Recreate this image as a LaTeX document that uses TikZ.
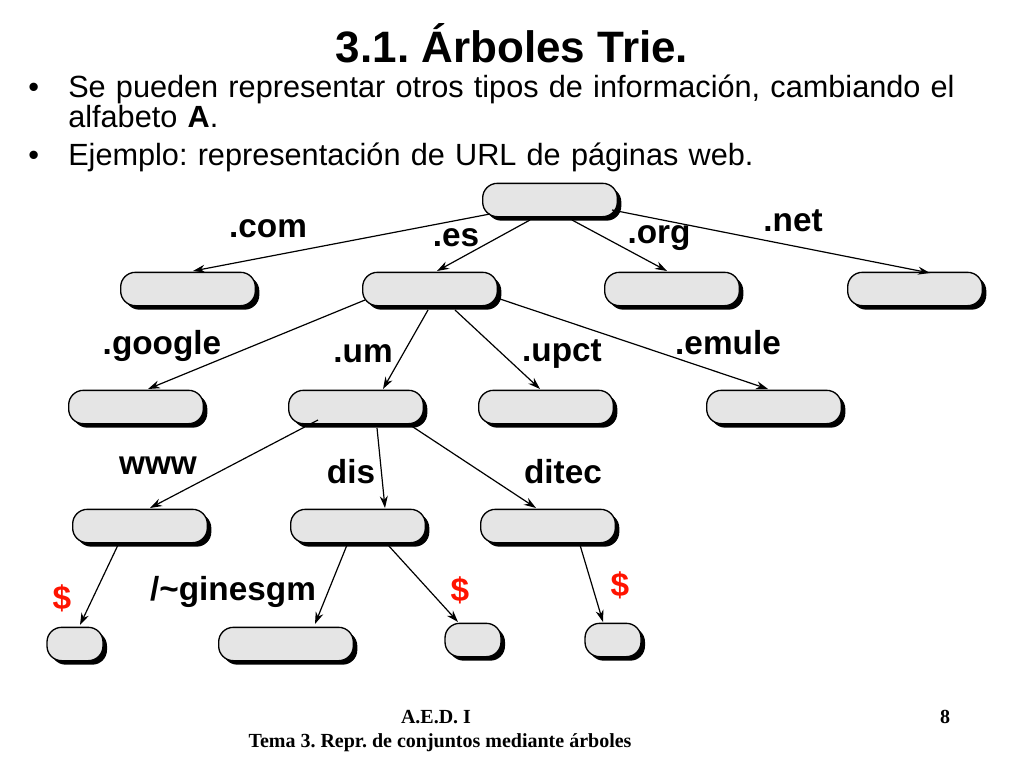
\documentclass[tikz,border=0pt]{standalone}
\usepackage{fontspec}
\setmainfont{Liberation Sans}
\newfontfamily\footfont{Liberation Serif}
\usetikzlibrary{shadows,arrows.meta}
\frenchspacing
\begin{document}
\begin{tikzpicture}[x=0.75pt,y=-0.75pt,
 box/.style={draw=black,line width=1pt,fill=gray!20,rounded corners=11pt,minimum height=25pt,minimum width=101pt,inner sep=0pt,
   drop shadow={shadow xshift=3pt,shadow yshift=-3pt,fill=black,opacity=1}},
 small/.style={box,minimum width=42pt},
 lab/.style={font=\bfseries\fontsize{25}{27}\selectfont,inner sep=0pt},
 dol/.style={lab,text=red!85!orange},
 arr/.style={-{Stealth[length=9pt,width=6pt]},line width=0.9pt},
 ft/.style={font=\footfont\bfseries\fontsize{15}{17}\selectfont}]
\useasboundingbox (0,0) rectangle (1024,768);
\node[font=\bfseries\fontsize{33}{36}\selectfont] (title) at (512,43) {3.1. Árboles Trie.};
\node[anchor=north west,font=\fontsize{23}{21}\selectfont,text width=740pt,align=left,inner sep=0pt] (txt) at (28,75)
 {\makebox[30pt][l]{•}Se pueden representar otros tipos de información, cambiando el\\
 \hspace*{30pt}alfabeto \textbf{A}.\\[7pt]
 \makebox[30pt][l]{•}Ejemplo: representación de URL de páginas web.};
\node[box] (r) at (550,200) {};
\node[box] (a) at (188,289) {};
\node[box] (b) at (430,289) {};
\node[box] (c) at (672,289) {};
\node[box] (d) at (915,289) {};
\node[box] (g) at (136,407) {};
\node[box] (um) at (356,407) {};
\node[box] (up) at (546,407) {};
\node[box] (em) at (774,407) {};
\node[box] (w) at (140,526) {};
\node[box] (di) at (358,526) {};
\node[box] (dt) at (548,526) {};
\node[small] (e1) at (75,644) {};
\node[box] (gi) at (286,644) {};
\node[small] (e2) at (473,640) {};
\node[small] (e3) at (613,640) {};
\draw[arr] ([shift={(-60,14)}]r.center) -- ([shift={(5,-18)}]a.center);
\draw[arr] ([shift={(-20,20)}]r.center) -- ([shift={(7,-18)}]b.center);
\draw[arr] ([shift={(22,20)}]r.center) -- ([shift={(-5,-18)}]c.center);
\draw[arr] ([shift={(62,10)}]r.center) -- ([shift={(15,-16)}]d.center);
\draw[arr] ([shift={(-65,11)}]b.center) -- ([shift={(12,-18)}]g.center);
\draw[arr] ([shift={(-2,21)}]b.center) -- ([shift={(27,-18)}]um.center);
\draw[arr] ([shift={(25,21)}]b.center) -- ([shift={(-6,-18)}]up.center);
\draw[arr] ([shift={(67,9)}]b.center) -- ([shift={(-6,-18)}]em.center);
\draw[arr] ([shift={(-38,13)}]um.center) -- ([shift={(10,-18)}]w.center);
\draw[arr] ([shift={(21,21)}]um.center) -- ([shift={(27,-18)}]di.center);
\draw[arr] ([shift={(54,18)}]um.center) -- ([shift={(-12,-18)}]dt.center);
\draw[arr] ([shift={(-22,19)}]w.center) -- ([shift={(5,-19)}]e1.center);
\draw[arr] ([shift={(-11,19)}]di.center) -- ([shift={(29,-20)}]gi.center);
\draw[arr] ([shift={(30,19)}]di.center) -- ([shift={(-15,-18)}]e2.center);
\draw[arr] ([shift={(32,19)}]dt.center) -- ([shift={(-10,-18)}]e3.center);
\node[lab] (l1) at (268,229) {.com};
\node[lab] (l2) at (456,238) {.es};
\node[lab] (l3) at (659,238) {.org};
\node[lab] (l4) at (793,221) {.net};
\node[lab] (l5) at (162,346) {.google};
\node[lab] (l6) at (363,354) {.um};
\node[lab] (l7) at (562,354) {.upct};
\node[lab] (l8) at (728,343) {.emule};
\node[lab] (l9) at (158,466) {www};
\node[lab] (l10) at (351,472) {dis};
\node[lab] (l11) at (563,472) {ditec};
\node[dol] (s1) at (62,598) {\$};
\node[lab] (l12) at (233,592) {/\char`\~ginesgm};
\node[dol] (s2) at (460,590) {\$};
\node[dol] (s3) at (620,585) {\$};
\node[ft] (f1) at (436,717) {A.E.D. I};
\node[ft] (f2) at (945,717) {8};
\node[ft] (f3) at (440,743) {Tema 3. Repr. de conjuntos mediante árboles};
\end{tikzpicture}
\end{document}
